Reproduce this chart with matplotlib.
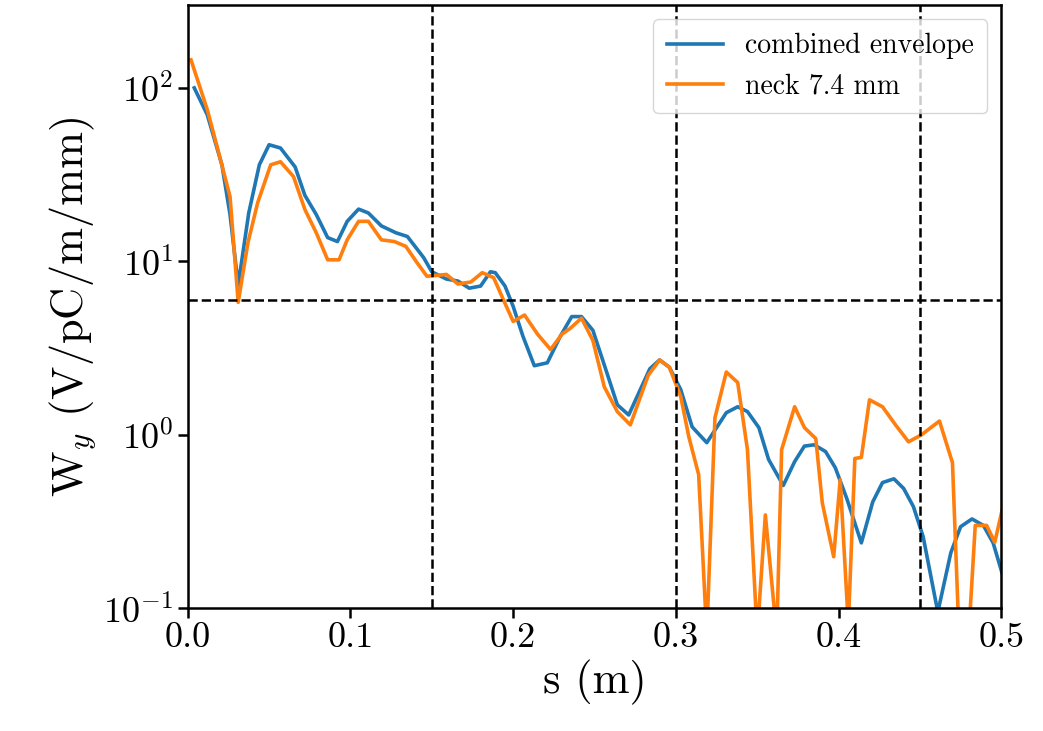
import matplotlib
matplotlib.use("Agg")
import matplotlib.pyplot as plt

s_env = [0.004,0.012,0.021,0.026,0.031,0.0375,0.044,0.050,0.057,0.066,0.072,0.079,0.086,0.092,0.098,0.105,0.111,0.119,0.128,0.135,0.145,0.150,0.159,0.166,0.173,0.180,0.186,0.189,0.195,0.200,0.206,0.213,0.221,0.229,0.236,0.242,0.249,0.255,0.264,0.271,0.284,0.290,0.296,0.303,0.310,0.319,0.331,0.338,0.344,0.351,0.357,0.366,0.373,0.379,0.385,0.392,0.398,0.405,0.414,0.421,0.427,0.434,0.440,0.446,0.452,0.461,0.469,0.475,0.482,0.489,0.495,0.5006]
w_env = [100,70,36,18.6,7.3,19,36,47,45,35,24,18.6,13.7,13,17,20,19,16,14.6,13.9,10.5,8.7,7.9,7.7,7.0,7.2,8.7,8.6,7.2,5.5,3.7,2.5,2.6,3.7,4.8,4.8,4.0,2.7,1.49,1.30,2.4,2.7,2.45,1.82,1.11,0.90,1.34,1.45,1.36,1.10,0.72,0.51,0.70,0.86,0.875,0.80,0.645,0.43,0.238,0.41,0.53,0.557,0.49,0.385,0.258,0.095,0.209,0.295,0.327,0.30,0.238,0.158]

s_neck = [0.002,0.012,0.018,0.026,0.031,0.037,0.043,0.051,0.057,0.065,0.072,0.079,0.086,0.093,0.098,0.105,0.111,0.119,0.127,0.134,0.141,0.147,0.153,0.159,0.166,0.174,0.181,0.188,0.194,0.200,0.207,0.215,0.223,0.230,0.235,0.242,0.249,0.256,0.264,0.272,0.283,0.290,0.296,0.303,0.308,0.314,0.319,0.324,0.331,0.338,0.344,0.350,0.355,0.362,0.365,0.373,0.379,0.386,0.390,0.397,0.401,0.406,0.410,0.414,0.419,0.427,0.435,0.443,0.451,0.462,0.470,0.474,0.480,0.484,0.491,0.496,0.501]
w_neck = [145,75,46,23.6,5.8,12.8,21.8,36,37.5,30.8,19.9,14.6,10.2,10.2,13.3,17,17,13.3,13,12.2,9.8,8.2,8.3,8.4,7.4,7.6,8.6,8.05,6.0,4.5,4.9,3.8,3.1,3.8,4.1,4.7,3.5,1.89,1.36,1.14,2.2,2.7,2.45,1.66,0.97,0.59,0.07,1.25,2.3,2.0,0.82,0.07,0.345,0.07,0.82,1.45,1.1,0.95,0.405,0.198,0.55,0.08,0.73,0.74,1.59,1.45,1.14,0.91,1.0,1.2,0.69,0.07,0.07,0.30,0.30,0.24,0.385]

plt.rcParams['font.family'] = 'serif'
plt.rcParams['font.serif'] = ['cmr10', 'DejaVu Serif']
plt.rcParams['mathtext.fontset'] = 'cm'
plt.rcParams['axes.formatter.use_mathtext'] = True

fig = plt.figure(figsize=(10.43, 7.31), dpi=100)
ax = fig.add_axes([0.18, 0.168, 0.78, 0.825])
ax.semilogy(s_env, w_env, color='#1f77b4', lw=2.6, label='combined envelope')
ax.semilogy(s_neck, w_neck, color='#ff7f0e', lw=2.6, label='neck 7.4 mm')
for xv in [0.15, 0.30, 0.45]:
    ax.axvline(xv, color='k', ls='--', lw=1.8)
ax.axhline(6.0, color='k', ls='--', lw=1.8)
ax.set_xlim(0, 0.5)
ax.set_ylim(0.1, 300)
ax.set_xticks([0, 0.1, 0.2, 0.3, 0.4, 0.5])
ax.set_xticklabels(['0.0', '0.1', '0.2', '0.3', '0.4', '0.5'])
ax.tick_params(labelsize=26, width=1.8, length=7)
ax.tick_params(which='minor', length=0)
for sp in ax.spines.values():
    sp.set_linewidth(1.8)
ax.set_xlabel('s (m)', fontsize=32)
ax.set_ylabel(r'$\mathrm{W}_y$(V/pC/m/mm)'.replace('$(', '$ ('), fontsize=32)
ax.legend(fontsize=20, loc='upper right', handlelength=2.0, borderpad=0.5, framealpha=0.8)
fig.savefig('out.png', dpi=100)
